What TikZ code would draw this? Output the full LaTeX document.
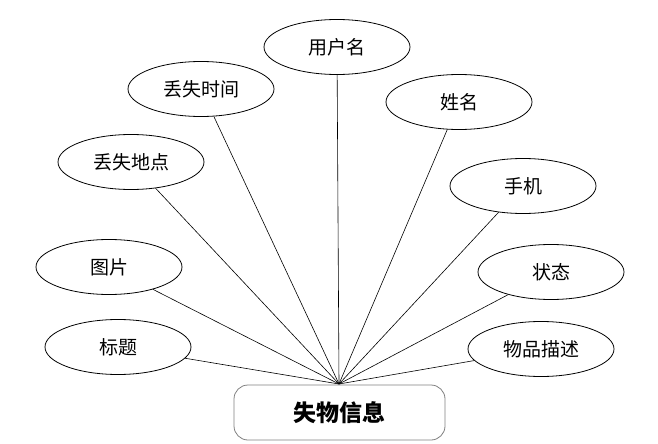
\documentclass[tikz,border=0pt]{standalone}
\usepackage{fontspec}
\setmainfont{Noto Sans CJK SC}
\usetikzlibrary{shapes.geometric}
\tikzset{
  attr/.style={draw, ellipse, line width=0.8pt, minimum width=146pt, minimum height=55pt, inner sep=0pt, font=\fontsize{19pt}{21pt}\selectfont},
  entity/.style={draw=gray, rounded corners=14pt, line width=0.8pt, minimum width=211pt, minimum height=55pt, inner sep=0pt, font=\fontsize{23pt}{25pt}\selectfont\bfseries},
  link/.style={line width=0.6pt}
}
\begin{document}
\begin{tikzpicture}[x=1pt,y=-1pt]
\useasboundingbox (0,0) rectangle (658,444);
\node[attr] (yhm) at (337,47) {用户名};
\node[attr] (dssj) at (201,89) {丢失时间};
\node[attr] (xm) at (459,102) {姓名};
\node[attr] (dsdd) at (131,162) {丢失地点};
\node[attr] (sj) at (523,186) {手机};
\node[attr] (tp) at (109,267) {图片};
\node[attr] (zt) at (551,272) {状态};
\node[attr] (bt) at (118,347) {标题};
\node[attr] (wpms) at (541,349) {物品描述};
\node[entity] (swxx) at (339.5,412.5) {失物信息};
\coordinate (hub) at (339,384);
\foreach \n in {yhm,dssj,xm,dsdd,sj,tp,zt,bt,wpms}
  \draw[link] (\n) -- (hub);
\end{tikzpicture}
\end{document}
